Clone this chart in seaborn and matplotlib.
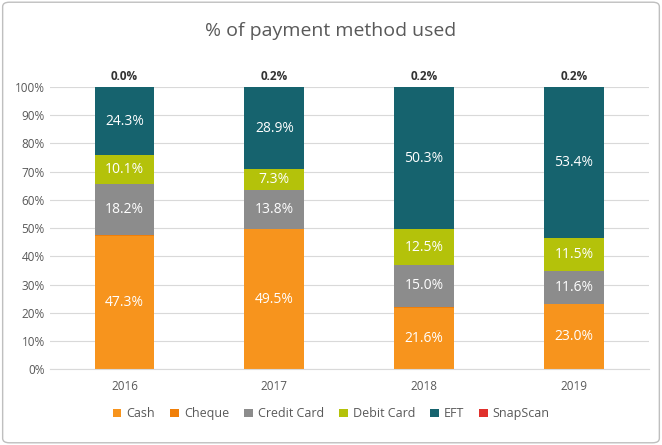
import matplotlib
matplotlib.use("Agg")
import matplotlib.pyplot as plt
import seaborn as sns
import numpy as np
from matplotlib.patches import FancyBboxPatch

years = ["2016", "2017", "2018", "2019"]
cash = [47.3, 49.5, 21.6, 23.0]
cheque = [0.1, 0.3, 0.4, 0.3]
credit = [18.2, 13.8, 15.0, 11.6]
debit = [10.1, 7.3, 12.5, 11.5]
eft = [24.3, 28.9, 50.3, 53.4]
snapscan = [0.0, 0.2, 0.2, 0.2]

series = [("Cash", cash, "#F7941D"), ("Cheque", cheque, "#F07F09"),
          ("Credit Card", credit, "#8C8C8C"), ("Debit Card", debit, "#B4C20A"),
          ("EFT", eft, "#16636E"), ("SnapScan", snapscan, "#E0302C")]

plt.rcParams["font.family"] = "Open Sans"
fig = fig = plt.figure(figsize=(6.62, 4.45), dpi=100)
ax = fig.add_axes([0.075, 0.17, 0.905, 0.635])
fig.patches.append(FancyBboxPatch((0.004, 0.005), 0.992, 0.99, boxstyle="round,pad=0,rounding_size=0.01",
                                  transform=fig.transFigure, fill=False, ec="#BFBFBF", lw=1))

bottom = np.zeros(4)
for name, vals, col in series:
    v = np.array(vals)
    sns.barplot(x=years, y=v, bottom=bottom, color=col, width=0.4, ax=ax, label=name, saturation=1)
    for i, (b, val) in enumerate(zip(bottom, v)):
        if name in ("Cash", "Credit Card", "Debit Card", "EFT"):
            ax.text(i, b + val / 2, f"{val:.1f}%", ha="center", va="center", color="white", fontsize=10)
        elif name == "SnapScan":
            ax.text(i, 101.5, f"{val:.1f}%", ha="center", va="bottom", color="#333333", fontsize=8.5, fontweight="bold")
    bottom += v

ax.set_ylim(0, 100)
ax.set_xlim(-0.5, 3.5)
ax.set_yticks(range(0, 101, 10))
ax.set_yticklabels([f"{t}%" for t in range(0, 101, 10)], fontsize=8.5, color="#595959")
ax.tick_params(axis="x", labelsize=8.5, colors="#595959", length=0, pad=8)
ax.tick_params(axis="y", length=0)
ax.grid(axis="y", color="#D9D9D9", lw=0.8)
ax.set_axisbelow(True)
for s in ["top", "right", "left"]:
    ax.spines[s].set_visible(False)
ax.spines["bottom"].set_color("#D9D9D9")
ax.set_xlabel(""); ax.set_ylabel("")
fig.text(0.5, 0.93, "% of payment method used", ha="center", va="center", fontsize=14, color="#595959")
ax.legend(loc="upper center", bbox_to_anchor=(0.47, -0.095), ncol=6, frameon=False, fontsize=9,
          handlelength=0.7, handleheight=0.7, columnspacing=1.2, handletextpad=0.4, labelcolor="#595959")
fig.savefig("out.png", dpi=100)
